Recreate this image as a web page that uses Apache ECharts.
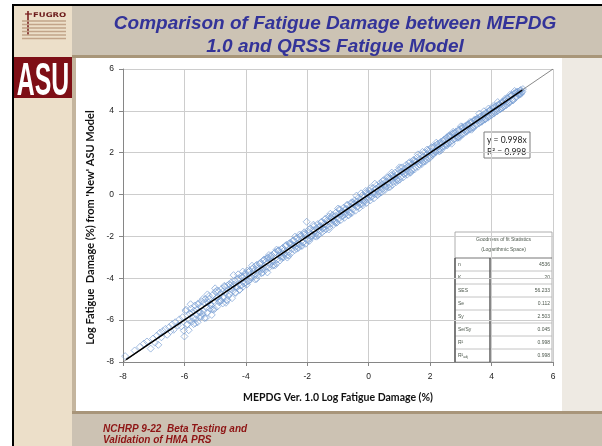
<!DOCTYPE html>
<html><head><meta charset="utf-8">
<script src="https://cdn.jsdelivr.net/npm/echarts@6/dist/echarts.min.js"></script>
<style>
html,body{margin:0;padding:0;background:#fff;}
#wrap{position:relative;width:602px;height:446px;overflow:hidden;background:#fff;}
.b{position:absolute;}
#chart{position:absolute;left:0;top:0;width:602px;height:446px;}
</style></head><body>
<div id="wrap">
<div class="b" style="left:12px;top:4px;width:590px;height:2px;background:#000"></div>
<div class="b" style="left:12px;top:4px;width:2px;height:442px;background:#000"></div>
<div class="b" style="left:14px;top:6px;width:58px;height:440px;background:#ecdfc9"></div>
<div class="b" style="left:72px;top:6px;width:530px;height:50px;background:#ccc3b4"></div>
<div class="b" style="left:72px;top:55px;width:530px;height:3px;background:#a89679"></div>
<div class="b" style="left:72px;top:58px;width:4px;height:354px;background:#c4b59e"></div>
<div class="b" style="left:76px;top:59px;width:486px;height:352px;background:#ffffff"></div>
<div class="b" style="left:562px;top:58px;width:40px;height:353px;background:#eeeae3"></div>
<div class="b" style="left:72px;top:411px;width:530px;height:3px;background:#a8957a"></div>
<div class="b" style="left:72px;top:414px;width:530px;height:32px;background:#ccc2b3"></div>
<div class="b" style="left:14px;top:57px;width:58px;height:41px;background:#7e0f16"></div>
<div id="chart"></div>
</div>
<script>
// ---- data ----
const xTicks = [-8, 6, 2];   // min, max, interval
const yTicks = [-8, 6, 2];
const pointsLow = [[-7.93,-7.72],[-7.62,-7.45],[-7.45,-7.28],[-7.32,-7.12],[-7.22,-7.02],[-7.10,-7.36],[-7.02,-6.88],[-6.96,-7.08],[-6.90,-6.74],[-6.85,-7.18],[-6.80,-6.60],[-6.75,-6.82],[-6.70,-6.52],[-6.62,-6.42],[-6.56,-6.70],[-6.50,-6.34],[-6.45,-6.52],[-6.40,-6.20],[-6.35,-6.46],[-6.30,-6.10],[-6.22,-6.26],[-6.16,-5.96],[-6.10,-6.30],[-6.06,-5.86],[-6.02,-6.50],[-6.00,-6.78],[-5.96,-5.56],[-5.92,-6.22],[-5.86,-6.48],[-5.82,-5.70]];
const pointsA = [[-5.78,-5.45],[-5.75,-6.05],[-5.72,-5.90],[-5.69,-5.55],[-5.66,-5.30],[-5.63,-5.95],[-5.60,-5.75],[-5.57,-6.10],[-5.55,-5.20],[-5.52,-5.60],[-5.50,-5.85],[-5.47,-5.35],[-5.44,-5.10],[-5.41,-5.70],[-5.38,-5.55],[-5.35,-5.90],[-5.32,-5.00],[-5.29,-5.40],[-5.26,-5.65],[-5.23,-5.15],[-5.20,-4.85],[-5.17,-5.45],[-5.14,-5.30],[-5.11,-5.75],[-5.08,-4.80],[-5.05,-5.10],[-5.02,-5.45],[-4.99,-4.65],[-4.96,-4.95],[-4.93,-5.35],[-4.90,-4.60],[-4.87,-5.15],[-4.84,-5.05],[-4.81,-4.75],[-4.78,-4.50],[-4.75,-5.20],[-4.72,-4.90],[-4.69,-4.40],[-4.66,-4.70],[-4.63,-5.05],[-4.60,-4.35],[-4.57,-4.85],[-4.54,-4.75],[-4.51,-4.50],[-4.48,-4.20],[-4.45,-4.95],[-4.42,-4.60],[-4.39,-4.30],[-4.36,-4.10],[-4.33,-4.70],[-4.30,-4.45],[-4.27,-4.05],[-4.24,-4.00],[-4.21,-4.55],[-4.18,-4.35],[-4.15,-3.90],[-4.12,-3.95],[-4.09,-4.40],[-4.06,-4.25],[-4.03,-3.80]];
const pointsB = [[-4.00,-3.75],[-3.97,-4.30],[-3.94,-4.15],[-3.91,-3.70],[-3.88,-3.65],[-3.85,-4.05],[-3.82,-3.95],[-3.79,-3.55],[-3.76,-3.50],[-3.73,-3.90],[-3.70,-3.80],[-3.67,-3.40],[-3.64,-3.35],[-3.61,-3.85],[-3.58,-3.70],[-3.55,-3.30],[-3.52,-3.25],[-3.49,-3.75],[-3.46,-3.55],[-3.43,-3.15],[-3.40,-3.10],[-3.37,-3.60],[-3.34,-3.45],[-3.31,-3.05],[-3.28,-3.00],[-3.25,-3.50],[-3.22,-3.35],[-3.19,-2.95],[-3.16,-2.90],[-3.13,-3.40],[-3.10,-3.20],[-3.07,-2.80],[-3.04,-2.75],[-3.01,-3.30],[-2.98,-3.10],[-2.95,-2.70],[-2.92,-2.65],[-2.89,-3.15],[-2.86,-2.95],[-2.83,-2.60],[-2.80,-2.55],[-2.77,-3.00],[-2.74,-2.85],[-2.71,-2.45],[-2.68,-2.40],[-2.65,-2.90],[-2.62,-2.75],[-2.59,-2.35],[-2.56,-2.30],[-2.53,-2.80],[-2.50,-2.60],[-2.47,-2.20],[-2.44,-2.20],[-2.41,-2.65],[-2.38,-2.50],[-2.35,-2.10],[-2.32,-2.05],[-2.29,-2.55],[-2.26,-2.40],[-2.23,-2.00],[-2.20,-1.95],[-2.17,-2.45],[-2.14,-2.30],[-2.11,-1.90],[-2.08,-1.85],[-2.05,-2.35],[-2.02,-1.30],[-1.99,-2.20]];
const pointsC = [[-1.96,-1.78],[-1.93,-2.21],[-1.90,-1.62],[-1.87,-2.02],[-1.84,-1.95],[-1.81,-1.70],[-1.78,-1.51],[-1.75,-1.99],[-1.72,-1.86],[-1.69,-1.60],[-1.66,-1.41],[-1.63,-1.90],[-1.60,-1.72],[-1.57,-1.50],[-1.54,-1.30],[-1.51,-1.80],[-1.48,-1.62],[-1.45,-1.41],[-1.42,-1.18],[-1.39,-1.66],[-1.36,-1.49],[-1.33,-1.29],[-1.30,-1.05],[-1.27,-1.55],[-1.24,-1.38],[-1.21,-1.12],[-1.18,-0.98],[-1.15,-1.45],[-1.12,-1.27],[-1.09,-1.02],[-1.06,-0.85],[-1.03,-1.33],[-1.00,-1.18],[-0.97,-0.92],[-0.94,-0.74],[-0.91,-1.22],[-0.88,-1.06],[-0.85,-0.80],[-0.82,-0.63],[-0.79,-1.11],[-0.76,-0.94],[-0.73,-0.70],[-0.70,-0.52],[-0.67,-0.98],[-0.64,-0.83],[-0.61,-0.59],[-0.58,-0.41],[-0.55,-0.88],[-0.52,-0.70],[-0.49,-0.46],[-0.46,-0.28],[-0.43,-0.77],[-0.40,-0.59],[-0.37,-0.33],[-0.34,-0.16],[-0.31,-0.65],[-0.28,-0.47],[-0.25,-0.22],[-0.22,-0.05],[-0.19,-0.51],[-0.16,-0.36],[-0.13,-0.10],[-0.10,0.08],[-0.07,-0.40],[-0.04,-0.24],[-0.01,0.02],[0.02,0.19],[0.05,-0.28],[0.08,-0.12],[0.11,0.13],[0.14,0.31],[0.17,-0.18],[0.20,0.02],[0.23,0.27],[0.26,0.44],[0.29,-0.03],[0.32,0.15],[0.35,0.40],[0.38,0.56],[0.41,0.10],[0.44,0.27],[0.47,0.51],[0.50,0.69],[0.53,0.22],[0.56,0.38],[0.59,0.63],[0.62,0.81],[0.65,0.34],[0.68,0.49],[0.71,0.75],[0.74,0.93],[0.77,0.46],[0.80,0.61],[0.83,0.87],[0.86,1.05],[0.89,0.59],[0.92,0.73],[0.95,0.99],[0.98,1.17],[1.01,0.71],[1.04,0.84],[1.07,1.11],[1.10,1.30],[1.13,0.83],[1.16,0.96],[1.19,1.24],[1.22,1.42],[1.25,0.95],[1.28,1.08],[1.31,1.36],[1.34,1.55],[1.37,1.07],[1.40,1.19],[1.43,1.47],[1.46,1.66],[1.49,1.20],[1.52,1.31],[1.55,1.58],[1.58,1.78],[1.61,1.33],[1.64,1.43],[1.67,1.70],[1.70,1.89],[1.73,1.46],[1.76,1.55],[1.79,1.82],[1.82,2.01],[1.85,1.59],[1.88,1.66],[1.91,1.94],[1.94,2.12],[1.97,1.72],[2.00,1.80],[2.03,2.05]];
const pointsD = [[2.05,2.24],[2.08,1.88],[2.10,1.96],[2.13,2.27],[2.15,2.33],[2.18,2.02],[2.20,2.07],[2.23,2.38],[2.25,2.43],[2.28,2.12],[2.30,2.17],[2.33,2.46],[2.35,2.52],[2.38,2.22],[2.40,2.28],[2.43,2.57],[2.45,2.61],[2.48,2.31],[2.50,2.37],[2.53,2.70],[2.55,2.74],[2.58,2.43],[2.60,2.47],[2.63,2.79],[2.65,2.84],[2.68,2.52],[2.70,2.58],[2.73,2.90],[2.75,2.93],[2.78,2.63],[2.80,2.68],[2.83,2.98],[2.85,3.02],[2.88,2.71],[2.90,2.77],[2.93,3.08],[2.95,3.10],[2.98,2.80],[3.00,2.86],[3.03,3.16],[3.05,3.19],[3.08,2.90],[3.10,2.95],[3.13,3.26],[3.15,3.28],[3.18,3.00],[3.20,3.04],[3.23,3.35],[3.25,3.37],[3.28,3.10],[3.30,3.14],[3.33,3.44],[3.35,3.46],[3.38,3.19],[3.40,3.24],[3.43,3.53],[3.45,3.55],[3.48,3.29],[3.50,3.34],[3.53,3.62],[3.55,3.65],[3.58,3.39],[3.60,3.43],[3.63,3.72],[3.65,3.74],[3.68,3.48],[3.70,3.53],[3.73,3.80],[3.75,3.84],[3.78,3.58],[3.80,3.62],[3.83,3.90],[3.85,3.94],[3.88,3.67],[3.90,3.72],[3.93,4.00],[3.95,4.05],[3.98,3.77],[4.00,3.82],[4.03,4.10],[4.05,4.15],[4.08,3.87],[4.10,3.92],[4.13,4.20],[4.15,4.24],[4.18,3.97],[4.20,4.02],[4.23,4.30],[4.25,4.33],[4.28,4.07],[4.30,4.12],[4.33,4.40],[4.35,4.43],[4.38,4.17],[4.40,4.22],[4.43,4.50],[4.45,4.53],[4.48,4.27],[4.50,4.33],[4.53,4.60],[4.55,4.64],[4.58,4.38],[4.60,4.44],[4.63,4.72],[4.65,4.75],[4.68,4.50],[4.70,4.56],[4.73,4.81],[4.75,4.84],[4.78,4.62],[4.80,4.68],[4.83,4.90],[4.85,4.92],[4.88,4.74],[4.90,4.80],[4.93,4.97],[4.95,5.00],[4.98,4.86],[5.00,4.92],[5.02,5.04]];
const pointsE = [[-5.95,-5.50],[-5.85,-6.00],[-5.75,-5.65],[-5.65,-6.15],[-5.55,-5.25],[-5.45,-5.83],[-5.35,-5.15],[-5.25,-4.77],[-5.15,-5.23],[-5.05,-5.50],[-4.95,-4.59],[-4.85,-5.10],[-4.75,-4.63],[-4.65,-5.17],[-4.55,-4.29],[-4.45,-4.42],[-4.35,-4.67],[-4.25,-3.81],[-4.15,-4.35],[-4.05,-3.90],[-3.95,-3.63],[-3.85,-3.97],[-3.75,-3.70],[-3.65,-4.03],[-3.55,-3.33],[-3.45,-3.73],[-3.35,-3.21],[-3.25,-2.89],[-3.15,-3.21],[-3.05,-3.38],[-2.95,-2.68],[-2.85,-3.03],[-2.75,-2.66],[-2.65,-3.01],[-2.55,-2.36],[-2.45,-2.43],[-2.35,-2.59],[-2.25,-1.91],[-2.15,-2.30],[-2.05,-1.94],[-1.95,-1.67],[-1.85,-1.95],[-1.75,-1.71],[-1.65,-1.96],[-1.55,-1.34],[-1.45,-1.71],[-1.35,-1.23],[-1.25,-0.92],[-1.15,-1.20],[-1.05,-1.35],[-0.95,-0.70],[-0.85,-1.01],[-0.75,-0.67],[-0.65,-0.99],[-0.55,-0.37],[-0.45,-0.44],[-0.35,-0.57],[-0.25,0.06],[-0.15,-0.28],[-0.05,0.05],[0.05,0.31],[0.15,0.06],[0.25,0.28],[0.35,0.06],[0.45,0.65],[0.55,0.31],[0.65,0.76],[0.75,1.05],[0.85,0.80],[0.95,0.67],[1.05,1.28],[1.15,1.00],[1.25,1.32],[1.35,1.04],[1.45,1.62],[1.55,1.56],[1.65,1.45],[1.75,2.04],[1.85,1.73],[1.95,2.04],[2.05,2.27],[2.15,2.07],[2.25,2.28],[2.35,2.11],[2.45,2.62],[2.55,2.35],[2.65,2.74],[2.75,3.00],[2.85,2.81],[2.95,2.72],[3.05,3.24],[3.15,3.03],[3.25,3.31],[3.35,3.10],[3.45,3.59],[3.55,3.56],[3.65,3.48],[3.75,3.98],[3.85,3.75],[3.95,4.02],[4.05,4.23],[4.15,4.08],[4.25,4.27],[4.35,4.15],[4.45,4.59],[4.55,4.39],[4.65,4.73],[4.75,4.95],[4.85,4.81],[4.95,4.80]];
const pointsF = [[-5.90,-6.20],[-5.80,-5.24],[-5.70,-6.19],[-5.60,-5.49],[-5.50,-5.64],[-5.40,-4.99],[-5.30,-5.89],[-5.20,-4.98],[-5.10,-5.48],[-5.00,-4.48],[-4.90,-4.90],[-4.80,-5.07],[-4.70,-4.36],[-4.60,-5.03],[-4.50,-4.32],[-4.40,-3.85],[-4.30,-4.40],[-4.20,-4.55],[-4.10,-3.68],[-4.00,-4.20],[-3.90,-4.12],[-3.80,-3.40],[-3.70,-4.05],[-3.60,-3.52],[-3.50,-3.60],[-3.40,-3.11],[-3.30,-3.72],[-3.20,-3.04],[-3.10,-3.37],[-3.00,-2.63],[-2.90,-2.90],[-2.80,-2.99],[-2.70,-2.46],[-2.60,-2.91],[-2.50,-2.37],[-2.40,-2.01],[-2.30,-2.37],[-2.20,-2.45],[-2.10,-1.80],[-2.00,-2.14],[-1.90,-2.10],[-1.80,-1.44],[-1.70,-2.01],[-1.60,-1.53],[-1.50,-1.59],[-1.40,-1.14],[-1.30,-1.67],[-1.20,-1.06],[-1.10,-1.34],[-1.00,-0.67],[-0.90,-0.90],[-0.80,-0.97],[-0.70,-0.48],[-0.60,-0.88],[-0.50,-0.38],[-0.40,-0.05],[-0.30,-0.36],[-0.20,-0.43],[-0.10,0.17],[0.00,-0.12],[0.10,-0.08],[0.20,0.52],[0.30,0.02],[0.40,0.46],[0.50,0.42],[0.60,0.84],[0.70,0.37],[0.80,0.93],[0.90,0.69],[1.00,1.30],[1.10,1.10],[1.20,1.05],[1.30,1.50],[1.40,1.15],[1.50,1.61],[1.60,1.92],[1.70,1.65],[1.80,1.59],[1.90,2.15],[2.00,1.88],[2.10,1.94],[2.20,2.48],[2.30,2.06],[2.40,2.45],[2.50,2.43],[2.60,2.81],[2.70,2.43],[2.80,2.91],[2.90,2.72],[3.00,3.26],[3.10,3.10],[3.20,3.07],[3.30,3.47],[3.40,3.19],[3.50,3.59],[3.60,3.87],[3.70,3.66],[3.80,3.62],[3.90,4.11],[4.00,3.90],[4.10,3.97],[4.20,4.42],[4.30,4.11],[4.40,4.44],[4.50,4.44],[4.60,4.77],[4.70,4.50],[4.80,4.89],[4.90,4.80]];
const trendSlope = 0.998;
const trendRange = [-7.9, 5.0];
const unityLine = [[-8,-8],[6,6]];
const equationLines = ['y = 0.998x', 'R\u00b2 = 0.998'];
const tableTitle = ['Goodness of fit Statistics', '(Logarithmic Space)'];
const tableLabels = ['n','K','SES','Se','Sy','Se/Sy','R\u00b2','R\u00b2'];
const tableValues = ['4536','20','56.233','0.112','2.503','0.045','0.998','0.998'];
const titleText = 'Comparison of Fatigue Damage between MEPDG\n1.0 and QRSS Fatigue Model';
const footerText = 'NCHRP 9-22  Beta Testing and\nValidation of HMA PRS';
const xName = 'MEPDG Ver. 1.0 Log Fatigue Damage (%)';
const yName = "Log Fatigue  Damage (%) from 'New' ASU Model";

const allPoints = [].concat(pointsLow, pointsA, pointsB, pointsE, pointsC, pointsF, pointsD);
const trendData = trendRange.map(x => [x, trendSlope * x]);

// ---- table graphic ----
const tL = 455, tT = 232, tW = 97, hH = 26, rH = 13, cX = 35;
const tStyle = {fontSize: 5, fontFamily: 'Liberation Sans', fill: '#4d584d'};
const tableChildren = [
  {type:'rect', shape:{x:0,y:0,width:tW,height:hH+rH*tableLabels.length}, style:{fill:'#fff', stroke:'#9a9a9a', lineWidth:0.8}}
];
tableTitle.forEach((t,i)=>tableChildren.push({type:'text', x:tW/2, y:8+i*10, style:Object.assign({text:t, align:'center', verticalAlign:'middle'}, tStyle)}));
tableChildren.push({type:'line', shape:{x1:0,y1:hH,x2:tW,y2:hH}, style:{stroke:'#777', lineWidth:1}});
tableLabels.forEach((lab,i)=>{
  const cy = hH + rH*i + rH/2;
  if (i === tableLabels.length-1) {
    tableChildren.push({type:'text', x:3, y:cy, style:Object.assign({text:'{a|'+lab+'}{s|adj}', align:'left', verticalAlign:'middle', rich:{a:{fontSize:5,fill:'#4d584d'},s:{fontSize:3.5,fill:'#4d584d',verticalAlign:'bottom',padding:[3,0,0,0]}}}, tStyle)});
  } else {
    tableChildren.push({type:'text', x:3, y:cy, style:Object.assign({text:lab, align:'left', verticalAlign:'middle'}, tStyle)});
  }
  tableChildren.push({type:'text', x:tW-2, y:cy, style:Object.assign({text:tableValues[i], align:'right', verticalAlign:'middle'}, tStyle)});
  if (i < tableLabels.length-1) tableChildren.push({type:'line', shape:{x1:0,y1:hH+rH*(i+1),x2:tW,y2:hH+rH*(i+1)}, style:{stroke:'#b5b5b5', lineWidth:0.8}});
});
tableChildren.push({type:'line', shape:{x1:cX,y1:hH,x2:cX,y2:hH+rH*tableLabels.length}, style:{stroke:'#555', lineWidth:1.4}});
tableChildren.push({type:'line', shape:{x1:0,y1:hH,x2:0,y2:hH+rH*tableLabels.length}, style:{stroke:'#555', lineWidth:1.4}});

// ---- logos ----
const logoChildren = [
  {type:'line', shape:{x1:28,y1:11,x2:28,y2:35}, style:{stroke:'#7a1f1f', lineWidth:1.6}},
  {type:'line', shape:{x1:25,y1:14,x2:32,y2:14}, style:{stroke:'#7a1f1f', lineWidth:1.2}},
  {type:'text', x:33, y:15, scaleX:1.3, style:{text:'FUGRO', fontSize:6.5, fontWeight:'bold', fontFamily:'DejaVu Sans', fill:'#6b1a1a', verticalAlign:'middle'}}
];
[21,24.5,28,31.5,35,38.5].forEach(y=>logoChildren.push({type:'line', shape:{x1:22,y1:y,x2:66,y2:y}, style:{stroke:'#c2a489', lineWidth:1.6}}));
logoChildren.push({type:'text', x:43, y:82, scaleX:0.54, style:{text:'ASU', fontSize:46, fontWeight:'bold', fontFamily:'Liberation Sans', fill:'#fff', align:'center', verticalAlign:'middle'}});

const chart = echarts.init(document.getElementById('chart'));
chart.setOption({
  backgroundColor: 'transparent',
  animation: false,
  title: {
    text: titleText, left: 335, top: 12, padding: 0, textAlign: 'center',
    textStyle: {fontFamily:'Liberation Sans', fontWeight:'bold', fontStyle:'italic', fontSize:19, color:'#333399', lineHeight:23}
  },
  grid: {left:123, right:49, top:69, bottom:84, containLabel:false},
  xAxis: {
    type:'value', min:xTicks[0], max:xTicks[1], interval:xTicks[2],
    name: xName, nameLocation:'middle', nameGap:30,
    nameTextStyle:{fontFamily:'Lato', fontWeight:'bold', fontSize:10.5, color:'#111'},
    axisLine:{show:true, onZero:false, lineStyle:{color:'#868686'}},
    axisTick:{show:true, length:4, lineStyle:{color:'#868686'}},
    axisLabel:{fontFamily:'Liberation Sans', fontSize:8.5, color:'#222', margin:10},
    splitLine:{show:true, lineStyle:{color:'#cdcdcd', width:1}}
  },
  yAxis: {
    type:'value', min:yTicks[0], max:yTicks[1], interval:yTicks[2],
    name: yName, nameLocation:'middle', nameGap:22,
    nameTextStyle:{fontFamily:'Lato', fontWeight:'bold', fontSize:11, color:'#111', padding:[0,24,0,0]},
    axisLine:{show:true, onZero:false, lineStyle:{color:'#868686'}},
    axisTick:{show:true, length:4, lineStyle:{color:'#868686'}},
    axisLabel:{fontFamily:'Liberation Sans', fontSize:8.5, color:'#222', margin:9},
    splitLine:{show:true, lineStyle:{color:'#cdcdcd', width:1}}
  },
  series: [
    {type:'scatter', data: allPoints, symbol:'diamond', symbolSize:7,
     itemStyle:{color:'rgba(255,255,255,0)', borderColor:'#769dd2', borderWidth:0.85}, z:2},
    {type:'line', data: unityLine, symbol:'none', lineStyle:{color:'#555', width:0.7}, z:3},
    {type:'line', data: trendData, symbol:'none', lineStyle:{color:'#000', width:1.4}, z:4}
  ],
  graphic: [
    {type:'group', children: logoChildren},
    {type:'group', x:tL, y:tT, children: tableChildren},
    {type:'rect', shape:{x:484,y:132,width:46,height:26}, style:{fill:'#fff', stroke:'#7f7f7f', lineWidth:1}},
    {type:'text', x:487, y:140.5, style:{text:equationLines[0], fontFamily:'Lato', fontSize:8.5, fill:'#222', verticalAlign:'middle'}},
    {type:'text', x:487, y:152, style:{text:equationLines[1], fontFamily:'Lato', fontSize:8.5, fill:'#222', verticalAlign:'middle'}},
    {type:'text', x:103, y:434.5, style:{text:footerText, fontFamily:'Liberation Sans', fontWeight:'bold', fontStyle:'italic', fontSize:10, lineHeight:11, fill:'#8e1414', verticalAlign:'middle', textShadowColor:'#2a0000', textShadowOffsetX:1, textShadowOffsetY:1, textShadowBlur:0}}
  ]
});
</script>
</body></html>
